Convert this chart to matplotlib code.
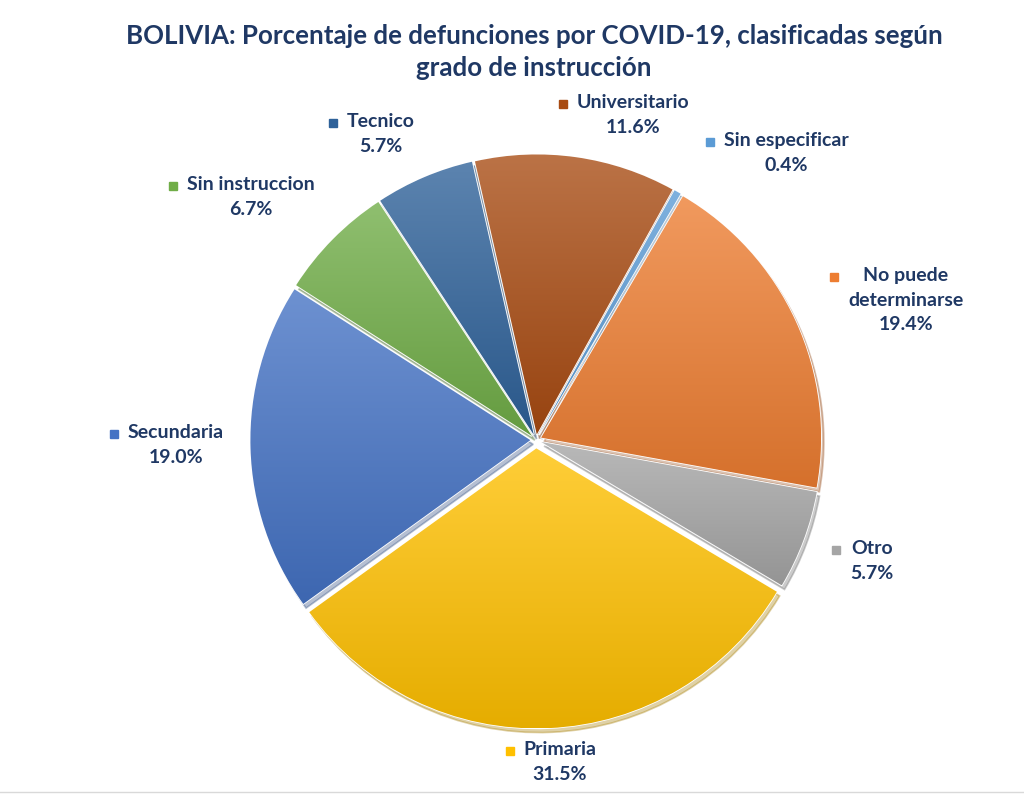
import numpy as np
import matplotlib.pyplot as plt
import matplotlib.colors as mcolors

plt.rcParams['font.family'] = ['Lato', 'DejaVu Sans']

categories = ['Sin especificar', 'No puede\ndeterminarse', 'Otro', 'Primaria',
              'Secundaria', 'Sin instruccion', 'Tecnico', 'Universitario']
values = [0.4, 19.4, 5.7, 31.5, 19.0, 6.7, 5.7, 11.6]
colors = ['#5B9BD5', '#ED7D31', '#A5A5A5', '#FFC000',
          '#4472C4', '#70AD47', '#2E6199', '#A84B12']
explode_frac = [0.02, 0.02, 0.02, 0.03, 0.02, 0.02, 0.02, 0.02]

# label block centres in pixel coords (x, y from top)
label_pos = [(786, 153), (906, 300), (872, 561), (560, 762),
             (176, 445), (251, 197), (381, 134), (633, 115)]

navy = '#1F3864'
W, H = 1024, 794
fig = plt.figure(figsize=(W / 100, H / 100), dpi=100)
ax = fig.add_axes([0, 0, 1, 1])

cx, cy, r = 536, H - 440, 280
wedges, _ = ax.pie(values, colors=colors, startangle=61, counterclock=False,
                   explode=[e * r for e in explode_frac], radius=r, center=(cx, cy),
                   wedgeprops=dict(edgecolor='white', linewidth=1.2),
                   shadow=dict(ox=2, oy=-3, shade=0.35, alpha=0.35))

# vertical gradient inside each wedge (lighter top, darker bottom)
for w, c in zip(wedges, colors):
    bb = w.get_path().get_extents()
    base = np.array(mcolors.to_rgb(c))
    top = base + (1 - base) * 0.22
    bot = base * 0.9
    t = np.linspace(0, 1, 256)[:, None, None]
    grad = bot * (1 - t) + top * t
    im = ax.imshow(grad, extent=[bb.x0, bb.x1, bb.y0, bb.y1], origin='lower',
                   aspect='auto', zorder=w.get_zorder() + 0.1, interpolation='bilinear')
    im.set_clip_path(w)

ax.set_xlim(0, W)
ax.set_ylim(0, H)
ax.set_aspect('equal')
ax.axis('off')

fig.text(534 / W, 1 - 52 / H, 'BOLIVIA: Porcentaje de defunciones por COVID-19, clasificadas según\ngrado de instrucción',
         ha='center', va='center', fontsize=18.6, fontweight='bold', color=navy, linespacing=1.4)

fig.canvas.draw()
rend = fig.canvas.get_renderer()
fs = 14
for name, v, c, (lx, ly) in zip(categories, values, colors, label_pos):
    txt = ax.text(lx, H - ly, f'{name}\n{v:.1f}%', ha='center', va='center',
                  fontsize=fs, fontweight='bold', color=navy, linespacing=1.55)
    # square marker left of the label block, on the first line
    bb_all = txt.get_window_extent(rend)
    nlines = len(name.split('\n')) + 1
    line_h = bb_all.height / nlines
    y_first = bb_all.y1 - line_h / 2
    ax.plot([bb_all.x0 - 14], [y_first + 1], marker='s', markersize=6, color=c,
            linestyle='none', zorder=5)

ax.axhline(2, color='#D9D9D9', linewidth=1)

fig.savefig('out.png', dpi=100)
